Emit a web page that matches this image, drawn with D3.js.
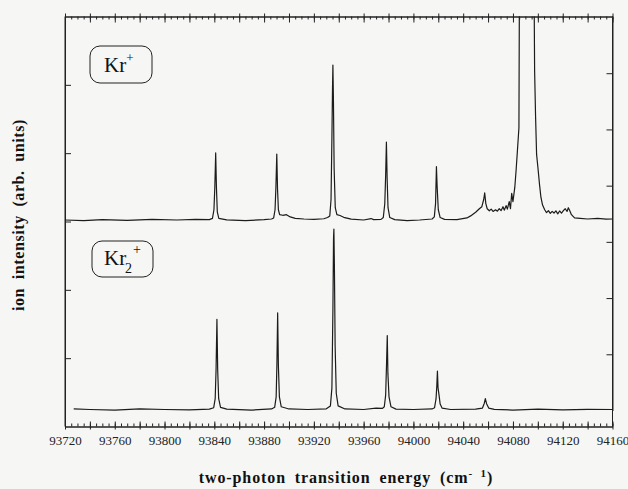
<!DOCTYPE html>
<html lang="en">
<head>
<meta charset="UTF-8"/>
<title>Kr two-photon spectrum</title>
<script src="https://d3js.org/d3.v7.min.js"></script>
<style>
	body { margin: 0; background: #f6f6f4; }
	svg { display: block; }
	.tick text { font-family: "Liberation Serif", "DejaVu Serif", serif; font-size: 13px; fill: #222; }
</style>
</head>
<body>
<script>

	var w = 628;
	var h = 489;

	// tick labels along the energy axis (cm-1)
	var energyTicks = [93720, 93760, 93800, 93840, 93880, 93920, 93960, 94000, 94040, 94080, 94120, 94160];

	// Kr+ trace: [energy, intensity]
	var krPlus = [
		[93720, 0], [93735, -0.3], [93750, 0.2], [93770, -0.2], [93790, 0.3], [93810, 0], [93825, 0.3], [93836, 0.2],
		[93838.5, 0.8], [93839.7, 5], [93840.4, 16], [93841.1, 32.7], [93841.7, 16], [93842.4, 4], [93843.6, 0.8],
		[93850, 0.1], [93865, -0.3], [93880, 0.2], [93886, 0.5],
		[93887.7, 1], [93888.8, 5], [93889.5, 16], [93890.2, 32.2], [93890.8, 15], [93891.5, 5], [93892.5, 2.6],
		[93895, 2.3], [93898, 2.6], [93901, 1.5], [93905, 0.8], [93912, 0.5], [93920, 0.3], [93928, 0.6], [93931, 1.2],
		[93932.8, 2], [93933.8, 10], [93934.5, 40], [93935, 65], [93935.3, 75.6], [93935.7, 60], [93936.3, 25], [93937.2, 6],
		[93938.5, 2.6], [93941, 2.2], [93944, 1.3], [93950, 0.4], [93960, 0], [93966, 0.7], [93968, 0.2], [93974, 0.3],
		[93975.8, 1.2], [93977, 8], [93977.7, 22], [93978.3, 38], [93978.9, 20], [93979.6, 6], [93981, 1.2],
		[93985, 0.2], [93995, -0.3], [94005, 0], [94015, 0.5],
		[94016.8, 1.5], [94017.8, 8], [94018.5, 26], [94019.1, 16], [94020, 5], [94021.5, 1.2], [94025, 0.3], [94035, 0.2],
		[94043, 1], [94046, 2], [94050, 3.8], [94053, 5.5], [94055, 6.5], [94056.5, 10], [94057.3, 13.2], [94058.2, 8],
		[94059.3, 5.5], [94061, 4.5], [94062.5, 5.3], [94064, 4.2], [94066, 5], [94067.5, 4.3], [94069, 5.5], [94070.5, 4.6],
		[94072, 6.5], [94073, 4.8], [94074.5, 7], [94075.5, 5.3], [94077, 9], [94078, 5.5], [94079, 13], [94080, 9],
		[94081.5, 16], [94082.5, 24], [94083.5, 33], [94084.8, 45], [94085.4, 150], [94091, 170],
		[94096.6, 150], [94097.4, 73], [94098.2, 50], [94099, 32], [94100, 26], [94101.4, 17], [94102.5, 11], [94103.8, 7.3],
		[94105.5, 5], [94107, 3.6], [94108.5, 4.6], [94110, 3.2], [94111.5, 4.2], [94113, 3.4], [94114.5, 4.5], [94116, 3],
		[94117.5, 4.4], [94119, 3.3], [94120.5, 4.6], [94122, 5.5], [94123.5, 4.2], [94124.5, 6], [94125.5, 4.8],
		[94127, 2.6], [94129.5, 1], [94134, 0.8], [94140, 0.5], [94148, 0.8], [94155, 0.4], [94160, 0.5]
	];

	// Kr2+ trace: [energy, intensity]
	var kr2Plus = [
		[93727, 0.3], [93740, 0], [93760, -0.3], [93780, 0.3], [93800, 0], [93820, -0.2], [93836, 0.2],
		[93839.5, 1], [93840.7, 6], [93841.4, 22], [93842.1, 50], [93842.7, 22], [93843.5, 6], [93845, 1.2],
		[93850, 0.2], [93870, -0.3], [93886, 0.3],
		[93888.5, 1.2], [93889.7, 7], [93890.3, 25], [93890.9, 53.5], [93891.5, 24], [93892.3, 7], [93893.8, 1.5],
		[93900, 0.3], [93915, 0], [93930, 0.4],
		[93933.3, 2], [93934.5, 12], [93935.3, 55], [93935.8, 95], [93936.1, 100], [93936.5, 80], [93937.1, 35], [93938, 9],
		[93939.5, 2], [93945, 0.3], [93960, 0], [93970, 0.8], [93975, 0.6],
		[93976.6, 1.5], [93977.7, 8], [93978.4, 25], [93979, 41], [93979.5, 20], [93980.4, 7], [93982, 1.5],
		[93986, 0.2], [94000, 0], [94015, 0.3],
		[94017, 1], [94018.2, 6], [94018.8, 13], [94019.3, 21.3], [94019.8, 12], [94020.6, 8], [94021.5, 3], [94023, 0.8],
		[94030, 0], [94050, 0.2],
		[94055.5, 0.8], [94057, 3.5], [94057.8, 6], [94058.8, 3.2], [94060.5, 0.8], [94065, 0.1],
		[94080, -0.3], [94100, 0.2], [94120, -0.2], [94140, 0.1], [94160, 0]
	];

	// frame edges
	var fLeft = 65, fRight = 612.5, fTop = 16.5, fBottom = 426.5;

	var xScale = d3.scaleLinear()
					.domain([93720, 94160])
					.range([fLeft, fRight]);

	// each panel has its own intensity scale
	var yTop = d3.scaleLinear().domain([0, 100]).range([220, 15]);
	var yBottom = d3.scaleLinear().domain([0, 100]).range([409.5, 229]);

	// scales used only for the frame ticks
	var yLeft = d3.scaleLinear().domain([0, 6]).range([fBottom, fTop]);
	var yRight = d3.scaleLinear().domain([0, 7]).range([410.5, 17]);

	var svg = d3.select("body")
		.append("svg")
		.attr("width", w)
		.attr("height", h);

	svg.append("clipPath")
		.attr("id", "frame")
		.append("rect")
		.attr("x", fLeft)
		.attr("y", fTop)
		.attr("width", fRight - fLeft)
		.attr("height", fBottom - fTop);

	//minor ticks every 5, major every 20
	var minorTicks = d3.range(93720, 94161, 5);
	var majorTicks = d3.range(93720, 94161, 20);

	svg.append("g")
		.attr("transform", "translate(0," + fBottom + ")")
		.call(d3.axisBottom(xScale).tickValues(minorTicks).tickSizeInner(-3).tickSizeOuter(0).tickFormat(""));
	svg.append("g")
		.attr("class", "major-bottom")
		.attr("transform", "translate(0," + fBottom + ")")
		.call(d3.axisBottom(xScale).tickValues(majorTicks).tickSizeInner(-5).tickSizeOuter(0).tickFormat(""));
	svg.selectAll(".major-bottom .tick line").attr("y1", 3);

	// labels
	svg.append("g")
		.attr("class", "labels")
		.attr("transform", "translate(0," + fBottom + ")")
		.call(d3.axisBottom(xScale).tickValues(energyTicks).tickSize(0).tickPadding(9).tickFormat(d3.format("d")));
	svg.select(".labels .domain").remove();

	svg.append("g")
		.attr("transform", "translate(0," + fTop + ")")
		.call(d3.axisTop(xScale).tickValues(minorTicks).tickSizeInner(-3).tickSizeOuter(0).tickFormat(""));
	svg.append("g")
		.attr("class", "major-top")
		.attr("transform", "translate(0," + fTop + ")")
		.call(d3.axisTop(xScale).tickValues(majorTicks).tickSizeInner(-6).tickSizeOuter(0).tickFormat(""));
	svg.selectAll(".major-top .tick line").attr("y1", -3);

	svg.append("g")
		.attr("transform", "translate(" + fLeft + ",0)")
		.call(d3.axisLeft(yLeft).tickValues([1, 2, 3, 4, 5]).tickSizeInner(-6).tickSizeOuter(0).tickFormat(""));

	svg.append("g")
		.attr("transform", "translate(" + fRight + ",0)")
		.call(d3.axisRight(yRight).tickValues([1, 2, 3, 4, 5, 6]).tickSizeInner(-6).tickSizeOuter(0).tickFormat(""));

	// the frame lines run the full height
	svg.selectAll(".domain").attr("stroke", "#222");
	svg.append("line")
		.attr("x1", fLeft).attr("x2", fLeft)
		.attr("y1", fTop).attr("y2", fBottom)
		.attr("stroke", "#222");
	svg.append("line")
		.attr("x1", fRight).attr("x2", fRight)
		.attr("y1", fTop).attr("y2", fBottom)
		.attr("stroke", "#222");
	svg.selectAll(".tick line").attr("stroke", "#222");

	// draw the traces
	var lineTop = d3.line()
		.x(function(d){ return xScale(d[0]); })
		.y(function(d){ return yTop(d[1]); });
	var lineBottom = d3.line()
		.x(function(d){ return xScale(d[0]); })
		.y(function(d){ return yBottom(d[1]); });

	var traces = svg.append("g").attr("clip-path", "url(#frame)");
	traces.append("path")
		.datum(krPlus)
		.attr("d", lineTop)
		.attr("fill", "none")
		.attr("stroke", "#1c1c1c")
		.attr("stroke-width", 1.2)
		.attr("stroke-linejoin", "round");
	traces.append("path")
		.datum(kr2Plus)
		.attr("d", lineBottom)
		.attr("fill", "none")
		.attr("stroke", "#1c1c1c")
		.attr("stroke-width", 1.2)
		.attr("stroke-linejoin", "round");

	// ion labels in rounded boxes
	var serif = "'Liberation Serif', 'DejaVu Serif', serif";

	svg.append("rect")
		.attr("x", 90).attr("y", 46)
		.attr("width", 62).attr("height", 37)
		.attr("rx", 10)
		.attr("fill", "none").attr("stroke", "#222").attr("stroke-width", 1);
	var t1 = svg.append("text")
		.attr("x", 104).attr("y", 72)
		.style("font-family", serif).style("font-size", "21px").attr("fill", "#111");
	t1.append("tspan").text("Kr");
	t1.append("tspan").attr("dy", -10).style("font-size", "13px").text("+");

	svg.append("rect")
		.attr("x", 92).attr("y", 241)
		.attr("width", 61).attr("height", 36)
		.attr("rx", 10)
		.attr("fill", "none").attr("stroke", "#222").attr("stroke-width", 1);
	var t2 = svg.append("text")
		.attr("x", 104).attr("y", 265)
		.style("font-family", serif).style("font-size", "21px").attr("fill", "#111");
	t2.append("tspan").text("Kr");
	t2.append("tspan").attr("x", 125).attr("dy", 8).style("font-size", "14px").text("2");
	t2.append("tspan").attr("x", 133).attr("dy", -19).style("font-size", "14px").text("+");

	//x-axis title
	var xt = svg.append("text")
		.attr("x", 346).attr("y", 483)
		.style("text-anchor", "middle")
		.style("font-family", serif).style("font-size", "16px").style("font-weight", "bold")
		.style("letter-spacing", "0.9px").style("word-spacing", "4px")
		.attr("fill", "#111");
	xt.append("tspan").text("two-photon transition energy (cm");
	xt.append("tspan").attr("dy", -6).style("font-size", "11px").text("- 1");
	xt.append("tspan").attr("dy", 6).text(")");

	//y-axis title
	svg.append("text")
		.attr("transform", "translate(24,215) rotate(-90)")
		.style("text-anchor", "middle")
		.style("font-family", serif).style("font-size", "16px").style("font-weight", "bold")
		.style("letter-spacing", "0.6px").style("word-spacing", "4px")
		.attr("fill", "#111")
		.text("ion intensity (arb. units)");

</script>
</body>
</html>
